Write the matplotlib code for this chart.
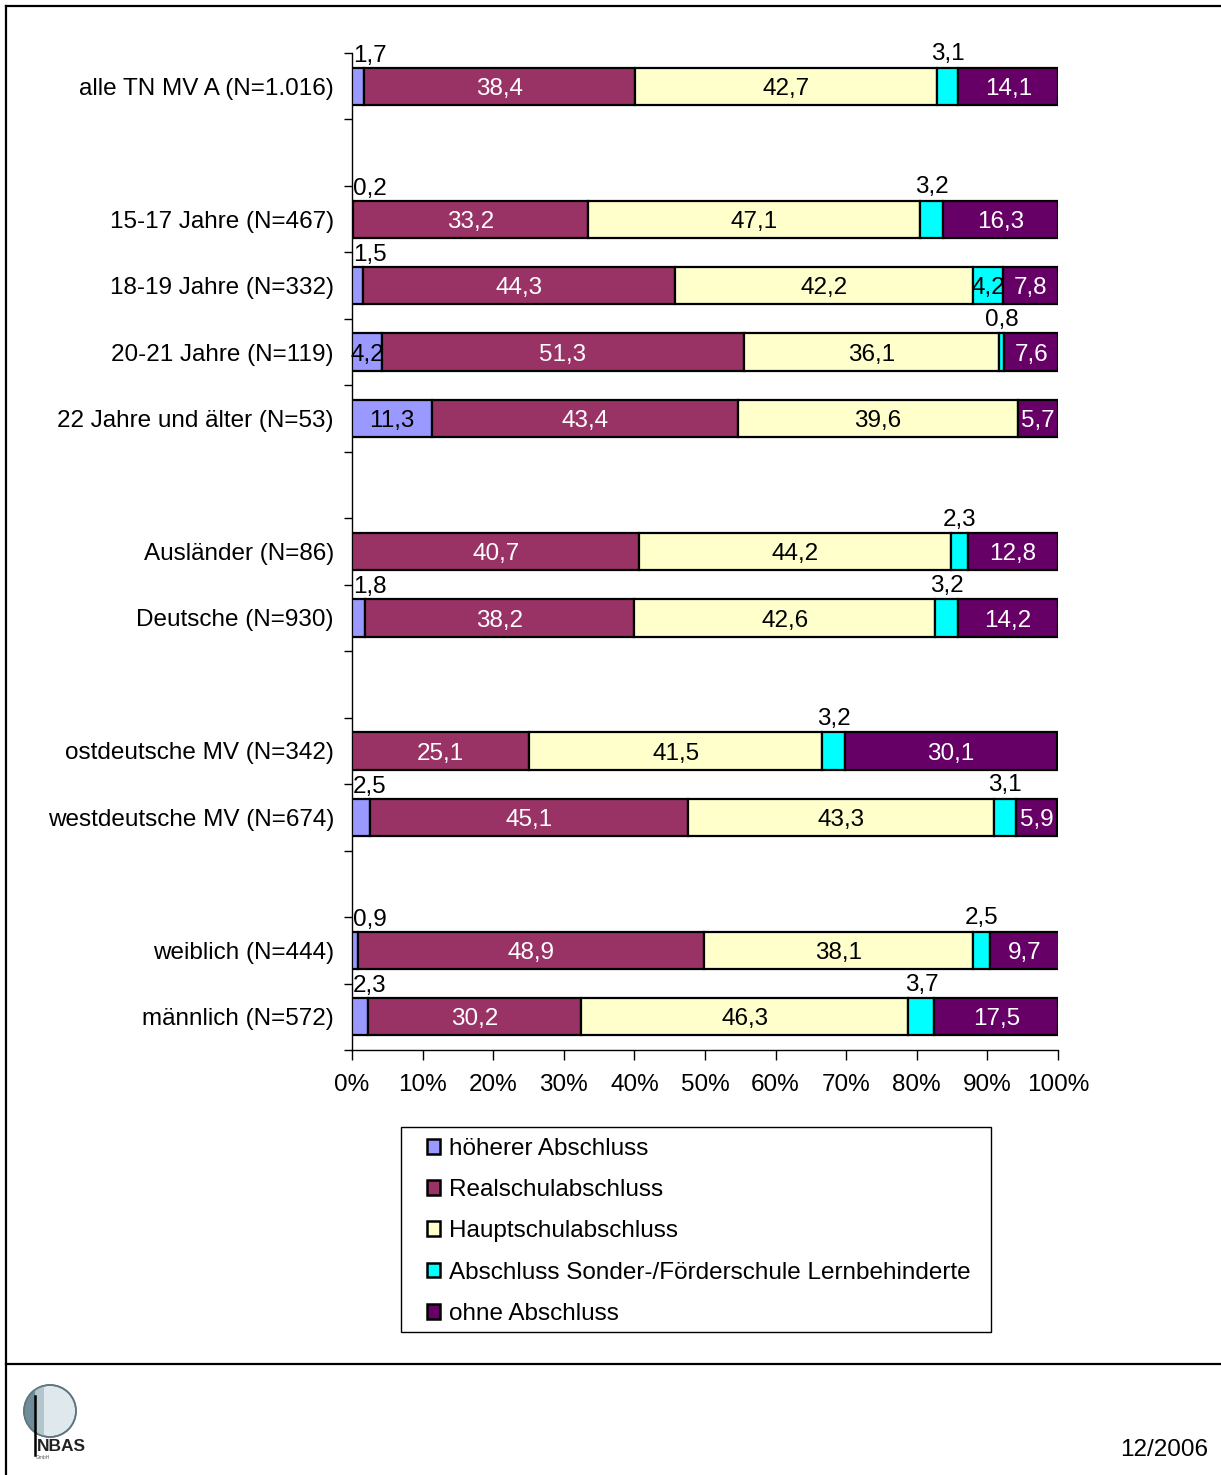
import matplotlib
matplotlib.use("Agg")
import matplotlib.pyplot as plt
import numpy as np
from matplotlib.patches import Rectangle, Circle, Patch, Polygon
from matplotlib.lines import Line2D

plt.rcParams['font.family'] = ['Liberation Sans', 'DejaVu Sans']

categories = ["alle TN MV A (N=1.016)", "", "15-17 Jahre (N=467)", "18-19 Jahre (N=332)",
              "20-21 Jahre (N=119)", "22 Jahre und älter (N=53)", "", "Ausländer (N=86)",
              "Deutsche (N=930)", "", "ostdeutsche MV (N=342)", "westdeutsche MV (N=674)", "",
              "weiblich (N=444)", "männlich (N=572)"]

series_names = ["höherer Abschluss", "Realschulabschluss", "Hauptschulabschluss",
                "Abschluss Sonder-/Förderschule Lernbehinderte", "ohne Abschluss"]

hoeherer = [1.7, 0, 0.2, 1.5, 4.2, 11.3, 0, 0, 1.8, 0, 0, 2.5, 0, 0.9, 2.3]
realschul = [38.4, 0, 33.2, 44.3, 51.3, 43.4, 0, 40.7, 38.2, 0, 25.1, 45.1, 0, 48.9, 30.2]
hauptschul = [42.7, 0, 47.1, 42.2, 36.1, 39.6, 0, 44.2, 42.6, 0, 41.5, 43.3, 0, 38.1, 46.3]
sonder = [3.1, 0, 3.2, 4.2, 0.8, 0, 0, 2.3, 3.2, 0, 3.2, 3.1, 0, 2.5, 3.7]
ohne = [14.1, 0, 16.3, 7.8, 7.6, 5.7, 0, 12.8, 14.2, 0, 30.1, 5.9, 0, 9.7, 17.5]

colors = ["#9999FF", "#993366", "#FFFFCC", "#00FFFF", "#660066"]
text_colors = ["black", "white", "black", "black", "white"]

FS = 17.5
W, H = 1221, 1475
fig = plt.figure(figsize=(W / 100, H / 100), dpi=100)

# frame lines
fig.add_artist(Line2D([6 / W, 6 / W], [0, 1 - 6 / H], color="black", lw=1.6))
fig.add_artist(Line2D([6 / W, 1], [1 - 6 / H, 1 - 6 / H], color="black", lw=1.6))
fig.add_artist(Line2D([6 / W, 1], [1 - 1364 / H, 1 - 1364 / H], color="black", lw=1.6))

ax_l, ax_r, ax_t, ax_b = 352, 1058, 53, 1050
ax = fig.add_axes([ax_l / W, 1 - ax_b / H, (ax_r - ax_l) / W, (ax_b - ax_t) / H])

data = [hoeherer, realschul, hauptschul, sonder, ohne]
n = len(categories)
y = np.arange(n)
bar_h = 0.56
dy = 0.04
left = np.zeros(n)
for si, vals in enumerate(data):
    vals = np.array(vals, dtype=float)
    mask = vals > 0
    ax.barh(y[mask], vals[mask], left=left[mask], height=bar_h, color=colors[si],
            edgecolor="black", linewidth=1.6, zorder=3)
    for i in range(n):
        v = vals[i]
        if v <= 0:
            continue
        lab = f"{v:.1f}".replace(".", ",")
        if v >= 4:
            ax.text(left[i] + v / 2, y[i] + dy, lab, ha="center", va="center",
                    color=text_colors[si], fontsize=FS, zorder=4)
        else:
            if si == 0:
                ax.text(left[i] + 0.1, y[i] - 0.5 + dy, lab, ha="left", va="center",
                        color="black", fontsize=FS, zorder=4)
            else:
                ax.text(left[i] + v / 2, y[i] - 0.52 + dy, lab, ha="center", va="center",
                        color="black", fontsize=FS, zorder=4)
    left = left + vals

ax.set_xlim(0, 100)
ax.set_ylim(n - 0.5, -0.5)
ax.set_xticks(np.arange(0, 101, 10))
ax.set_xticklabels([f"{t}%" for t in range(0, 101, 10)], fontsize=FS)
ax.set_yticks(y)
ax.set_yticklabels(categories, fontsize=FS)
ax.tick_params(axis="y", which="major", length=0, pad=13)
ax.set_yticks(np.arange(-0.5, n, 1.0), minor=True)
ax.tick_params(axis="y", which="minor", length=6, direction="out", width=1)
ax.tick_params(axis="x", which="major", length=7, direction="out", width=1, pad=10)
for s in ["top", "right"]:
    ax.spines[s].set_visible(False)
for s in ["left", "bottom"]:
    ax.spines[s].set_linewidth(1)
    ax.spines[s].set_color("black")

# legend box frame
fig.add_artist(Rectangle((401 / W, 1 - 1332 / H), (991 - 401) / W, (1332 - 1127) / H,
                         transform=fig.transFigure, facecolor="white", edgecolor="black",
                         linewidth=1, zorder=1))
handles = [Patch(facecolor=c, edgecolor="black", linewidth=1.8) for c in colors]
leg = fig.legend(handles, series_names, loc="upper left",
                 bbox_to_anchor=(427 / W, 1 - 1138 / H), fontsize=FS,
                 frameon=False, handlelength=0.55, handleheight=0.55,
                 handletextpad=0.35, labelspacing=0.79, borderpad=0, borderaxespad=0)
leg.set_zorder(2)

# logo approximation (pixel coordinates)
lax = fig.add_axes([15 / W, 1 - 1465 / H, 85 / W, 85 / H])
lax.set_xlim(15, 100)
lax.set_ylim(1465, 1380)
lax.axis("off")
cx, cy, r = 50, 1411, 26
lax.add_patch(Circle((cx, cy), r, facecolor="#dfe8ec", edgecolor="#5f7680", lw=1.2))
for xcut, col in [(44, "#b3c6ce"), (35, "#6f8d99")]:
    t = np.linspace(np.pi / 2, 3 * np.pi / 2, 100)
    xs = cx + r * np.cos(t)
    ys = cy + r * np.sin(t)
    keep = xs <= xcut
    pts = np.column_stack([xs[keep], ys[keep]])
    pts = np.vstack([[xcut, pts[0, 1]], pts, [xcut, pts[-1, 1]]])
    lax.add_patch(Polygon(pts, closed=True, facecolor=col, edgecolor="none"))
lax.add_patch(Circle((cx, cy), r, facecolor="none", edgecolor="#5f7680", lw=1.2))
lax.plot([35, 35], [1396, 1455], color="black", lw=1.8)
lax.text(37, 1451, "NBAS", fontsize=12.5, fontweight="bold", color="#222222",
         ha="left", va="baseline")
lax.text(36, 1459, "GmbH", fontsize=3.5, color="#555555", ha="left", va="baseline")

fig.text(1208 / W, 1 - 1450 / H, "12/2006", fontsize=FS, ha="right", va="center")

fig.savefig("out.png", dpi=100)
